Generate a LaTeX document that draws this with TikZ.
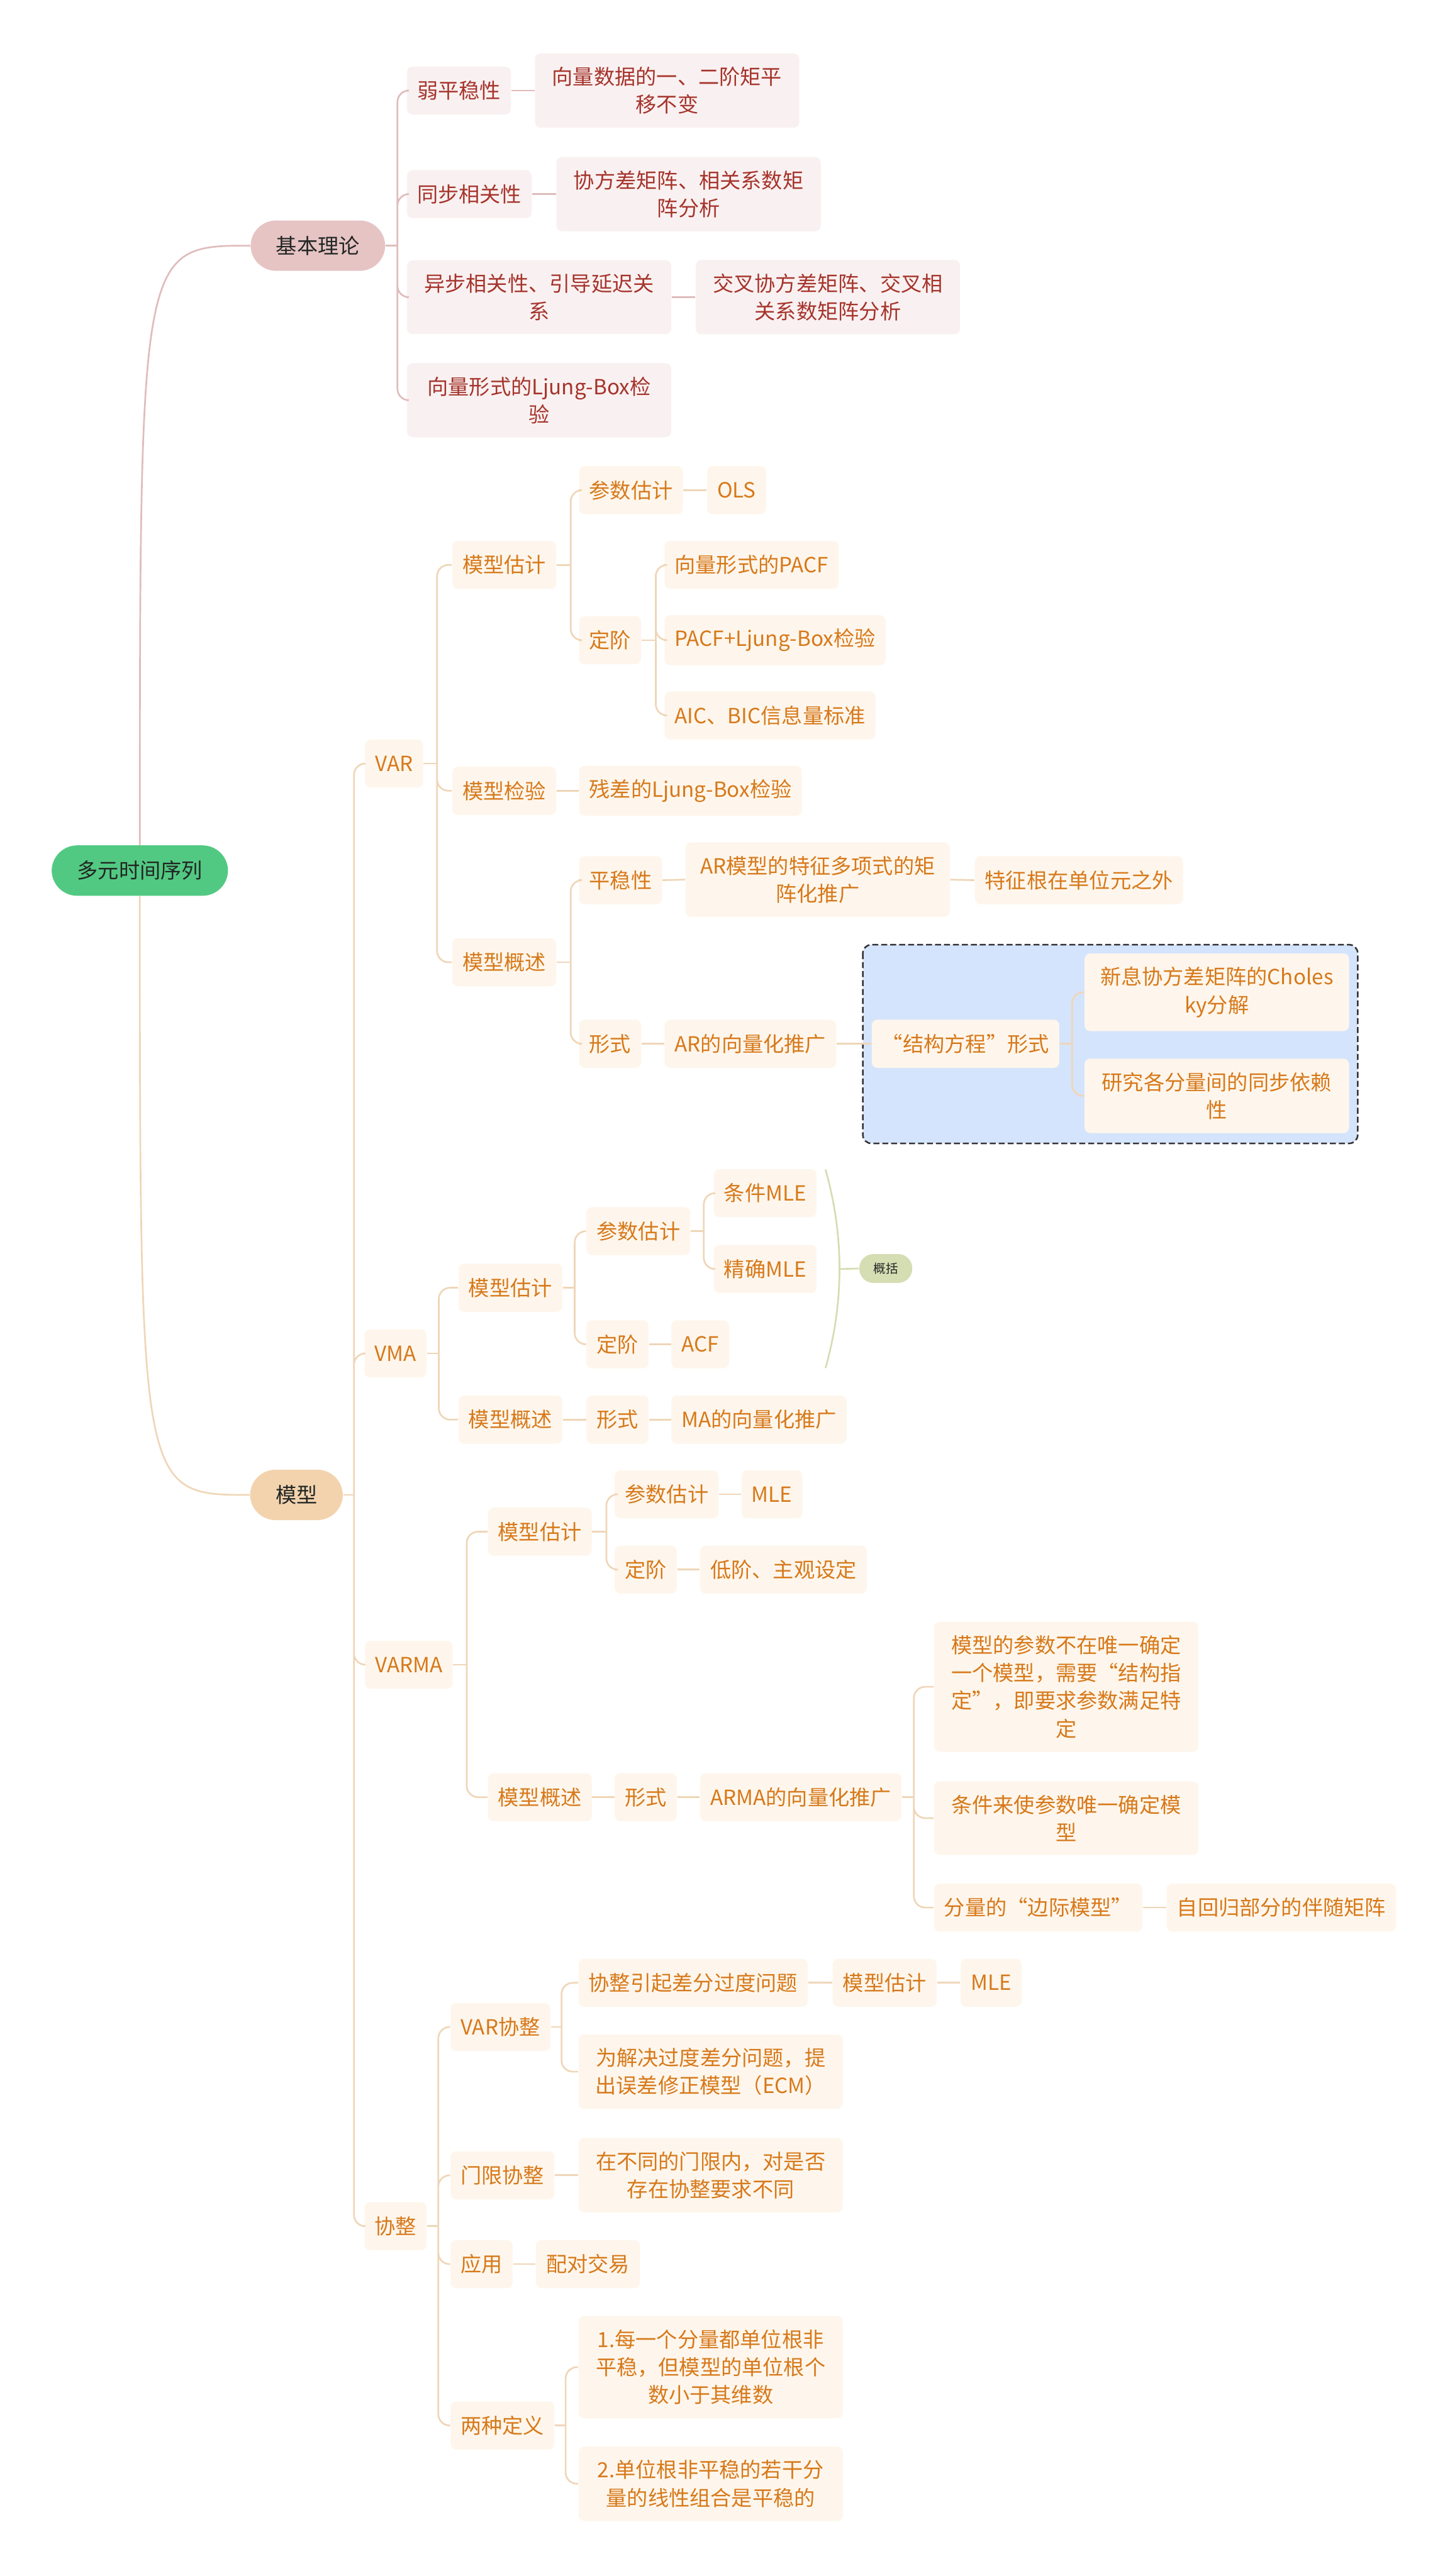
\documentclass[tikz,border=0pt]{standalone}
\usepackage{fontspec}
\setmainfont{Noto Sans CJK SC}
\usepackage{xcolor}
\usepackage{tikz}
\definecolor{rootColor}{RGB}{82, 201, 130}
\definecolor{pillText}{RGB}{34, 38, 36}
\definecolor{basicPillColor}{RGB}{230, 196, 196}
\definecolor{basicFill}{RGB}{249, 241, 241}
\definecolor{basicText}{RGB}{166, 52, 44}
\definecolor{basicLine}{RGB}{224, 188, 188}
\definecolor{modelPillColor}{RGB}{243, 211, 174}
\definecolor{modelFill}{RGB}{254, 246, 236}
\definecolor{modelText}{RGB}{215, 121, 26}
\definecolor{modelLine}{RGB}{239, 214, 184}
\definecolor{boundaryFill}{RGB}{213, 228, 253}
\definecolor{sumColor}{RGB}{213, 221, 179}

\begin{document}
\begin{tikzpicture}[font=\fontsize{10.5pt}{14pt}\selectfont,
    box/.style={rounded corners=0.1cm, inner xsep=0.18cm, inner ysep=0.24cm, minimum height=0.85cm, anchor=west},
    basicBox/.style={box, fill=basicFill, text=basicText},
    modelBox/.style={box, fill=modelFill, text=modelText},
    wrapbox/.style={text width=4.31cm, align=center},
    pill/.style={rounded corners=0.45cm, inner xsep=0.45cm, minimum height=0.89cm, text=pillText},
    basicLink/.style={draw=basicLine, line width=0.85pt, rounded corners=0.2cm},
    modelLink/.style={draw=modelLine, line width=0.85pt, rounded corners=0.2cm},
    boundaryBox/.style={draw=black!80, fill=boundaryFill, line width=0.8pt, dash pattern=on 3pt off 1.5pt, rounded corners=0.15cm}]
  \useasboundingbox (0,0) rectangle (25.60,-45.51);

  % Boundary round the structural-equation subtree
  \draw[boundaryBox] (15.24,-16.69) rectangle (23.98,-20.20);

  % Root and main topics
  \node[pill, fill=rootColor] (root) at (2.47,-15.38) {多元时间序列};
  \node[pill, fill=basicPillColor, anchor=west] (basic) at (4.42,-4.34) {基本理论};
  \node[pill, fill=modelPillColor, anchor=west] (model) at (4.41,-26.41) {模型};

  % Basic theory
  \node[basicBox] (weak) at (7.18,-1.60) {弱平稳性};
  \node[basicBox, wrapbox] (weakTxt) at (9.44,-1.60) {向量数据的一、二阶矩平\\移不变};
  \node[basicBox] (sync) at (7.18,-3.43) {同步相关性};
  \node[basicBox, wrapbox] (syncTxt) at (9.82,-3.43) {协方差矩阵、相关系数矩\\阵分析};
  \node[basicBox, wrapbox] (async) at (7.18,-5.25) {异步相关性、引导延迟关\\系};
  \node[basicBox, wrapbox] (asyncTxt) at (12.28,-5.25) {交叉协方差矩阵、交叉相\\关系数矩阵分析};
  \node[basicBox, wrapbox] (ljung) at (7.18,-7.07) {向量形式的Ljung-Box检\\验};

  % VAR
  \node[modelBox] (var) at (6.44,-13.49) {VAR};
  \node[modelBox] (varEst) at (7.98,-9.98) {模型估计};
  \node[modelBox] (varPar) at (10.22,-8.66) {参数估计};
  \node[modelBox] (varOls) at (12.48,-8.66) {OLS};
  \node[modelBox] (varOrd) at (10.22,-11.31) {定阶};
  \node[modelBox] (varPacf) at (11.73,-9.98) {向量形式的PACF};
  \node[modelBox] (varLb) at (11.73,-11.31) {PACF+Ljung-Box检验};
  \node[modelBox] (varAic) at (11.73,-12.64) {AIC、BIC信息量标准};
  \node[modelBox] (varChk) at (7.98,-13.97) {模型检验};
  \node[modelBox] (varRes) at (10.22,-13.97) {残差的Ljung-Box检验};
  \node[modelBox] (varDesc) at (7.98,-17.00) {模型概述};
  \node[modelBox] (varStat) at (10.22,-15.55) {平稳性};
  \node[modelBox, wrapbox] (varPoly) at (12.10,-15.54) {AR模型的特征多项式的矩\\阵化推广};
  \node[modelBox] (varRoot) at (17.21,-15.55) {特征根在单位元之外};
  \node[modelBox] (varForm) at (10.22,-18.44) {形式};
  \node[modelBox] (varGen) at (11.73,-18.44) {AR的向量化推广};
  \node[modelBox] (varSem) at (15.39,-18.44) {“结构方程”形式};
  \node[modelBox, wrapbox] (varChol) at (19.15,-17.53) {新息协方差矩阵的Choles\\ky分解};
  \node[modelBox, wrapbox] (varDep) at (19.15,-19.36) {研究各分量间的同步依赖\\性};

  % VMA
  \node[modelBox] (vma) at (6.43,-23.91) {VMA};
  \node[modelBox] (vmaEst) at (8.09,-22.75) {模型估计};
  \node[modelBox] (vmaPar) at (10.35,-21.75) {参数估计};
  \node[modelBox] (vmaCond) at (12.60,-21.08) {条件MLE};
  \node[modelBox] (vmaExact) at (12.60,-22.42) {精确MLE};
  \node[modelBox] (vmaOrd) at (10.35,-23.75) {定阶};
  \node[modelBox] (vmaAcf) at (11.85,-23.75) {ACF};
  \node[modelBox] (vmaDesc) at (8.09,-25.08) {模型概述};
  \node[modelBox] (vmaForm) at (10.35,-25.08) {形式};
  \node[modelBox] (vmaGen) at (11.85,-25.08) {MA的向量化推广};
  \coordinate (sumTop) at (14.58,-20.66);
  \coordinate (sumMid) at (14.83,-22.42);
  \coordinate (sumBot) at (14.58,-24.17);
  \node[rounded corners=0.25cm, fill=sumColor, text=pillText, inner xsep=0.25cm, minimum height=0.51cm,
        font=\fontsize{6.2pt}{7pt}\selectfont, anchor=west] (sumNote) at (15.17,-22.41) {概括};

  % VARMA
  \node[modelBox] (varma) at (6.44,-29.41) {VARMA};
  \node[modelBox] (varmaEst) at (8.61,-27.06) {模型估计};
  \node[modelBox] (varmaPar) at (10.85,-26.40) {参数估计};
  \node[modelBox] (varmaMle) at (13.09,-26.40) {MLE};
  \node[modelBox] (varmaOrd) at (10.85,-27.73) {定阶};
  \node[modelBox] (varmaLow) at (12.36,-27.73) {低阶、主观设定};
  \node[modelBox] (varmaDesc) at (8.61,-31.75) {模型概述};
  \node[modelBox] (varmaForm) at (10.85,-31.75) {形式};
  \node[modelBox] (varmaGen) at (12.36,-31.75) {ARMA的向量化推广};
  \node[modelBox, wrapbox] (varmaId) at (16.49,-29.80) {模型的参数不在唯一确定\\一个模型，需要“结构指\\定”，即要求参数满足特\\定};
  \node[modelBox, wrapbox] (varmaCond) at (16.49,-32.12) {条件来使参数唯一确定模\\型};
  \node[modelBox] (varmaMarg) at (16.49,-33.70) {分量的“边际模型”};
  \node[modelBox] (varmaComp) at (20.60,-33.70) {自回归部分的伴随矩阵};

  % Cointegration
  \node[modelBox] (coint) at (6.43,-39.33) {协整};
  \node[modelBox] (coVar) at (7.95,-35.81) {VAR协整};
  \node[modelBox] (coDiff) at (10.21,-35.03) {协整引起差分过度问题};
  \node[modelBox] (coEst) at (14.70,-35.03) {模型估计};
  \node[modelBox] (coMle) at (16.96,-35.03) {MLE};
  \node[modelBox, wrapbox] (coEcm) at (10.21,-36.60) {为解决过度差分问题，提\\出误差修正模型（ECM）};
  \node[modelBox] (coThr) at (7.95,-38.43) {门限协整};
  \node[modelBox, wrapbox] (coThrTxt) at (10.21,-38.43) {在不同的门限内，对是否\\存在协整要求不同};
  \node[modelBox] (coApp) at (7.95,-40.00) {应用};
  \node[modelBox] (coPair) at (9.46,-40.00) {配对交易};
  \node[modelBox] (coDef) at (7.95,-42.85) {两种定义};
  \node[modelBox, wrapbox] (coDef1) at (10.21,-41.82) {1.每一个分量都单位根非\\平稳，但模型的单位根个\\数小于其维数};
  \node[modelBox, wrapbox] (coDef2) at (10.21,-43.88) {2.单位根非平稳的若干分\\量的线性组合是平稳的};

  % Root branches
  \draw[basicLink] (root.north) .. controls (root.north |- basic.west) .. (basic.west);
  \draw[modelLink] (root.south) .. controls (root.south |- model.west) .. (model.west);

  % Basic theory links
  \draw[basicLink] (basic.east) -- ++(0.21,0) coordinate (basicS);
  \draw[basicLink] (basicS) |- (weak.west) (basicS) |- (sync.west) (basicS) |- (async.west) (basicS) |- (ljung.west);
  \draw[basicLink] (weak.east) -- (weakTxt.west);
  \draw[basicLink] (sync.east) -- (syncTxt.west);
  \draw[basicLink] (async.east) -- (asyncTxt.west);

  % Model links
  \draw[modelLink] (model.east) -- ++(0.19,0) coordinate (modelS);
  \draw[modelLink] (modelS) |- (var.west) (modelS) |- (vma.west) (modelS) |- (varma.west) (modelS) |- (coint.west);

  % VAR links
  \draw[modelLink] (var.east) -- ++(0.24,0) coordinate (varS);
  \draw[modelLink] (varS) |- (varEst.west) (varS) |- (varChk.west) (varS) |- (varDesc.west);
  \draw[modelLink] (varEst.east) -- ++(0.25,0) coordinate (varEstS);
  \draw[modelLink] (varEstS) |- (varPar.west) (varEstS) |- (varOrd.west);
  \draw[modelLink] (varPar.east) -- (varOls.west);
  \draw[modelLink] (varOrd.east) -- ++(0.25,0) coordinate (varOrdS);
  \draw[modelLink] (varOrdS) |- (varPacf.west) (varOrdS) |- (varLb.west) (varOrdS) |- (varAic.west);
  \draw[modelLink] (varChk.east) -- (varRes.west);
  \draw[modelLink] (varDesc.east) -- ++(0.25,0) coordinate (varDescS);
  \draw[modelLink] (varDescS) |- (varStat.west) (varDescS) |- (varForm.west);
  \draw[modelLink] (varStat.east) -- (varPoly.west);
  \draw[modelLink] (varPoly.east) -- (varRoot.west);
  \draw[modelLink] (varForm.east) -- (varGen.west);
  \draw[modelLink] (varGen.east) -- (varSem.west);
  \draw[modelLink] (varSem.east) -- ++(0.22,0) coordinate (varSemS);
  \draw[modelLink] (varSemS) |- (varChol.west) (varSemS) |- (varDep.west);

  % VMA links
  \draw[modelLink] (vma.east) -- ++(0.21,0) coordinate (vmaS);
  \draw[modelLink] (vmaS) |- (vmaEst.west) (vmaS) |- (vmaDesc.west);
  \draw[modelLink] (vmaEst.east) -- ++(0.21,0) coordinate (vmaEstS);
  \draw[modelLink] (vmaEstS) |- (vmaPar.west) (vmaEstS) |- (vmaOrd.west);
  \draw[modelLink] (vmaPar.east) -- ++(0.23,0) coordinate (vmaParS);
  \draw[modelLink] (vmaParS) |- (vmaCond.west) (vmaParS) |- (vmaExact.west);
  \draw[modelLink] (vmaOrd.east) -- (vmaAcf.west);
  \draw[modelLink] (vmaDesc.east) -- (vmaForm.west);
  \draw[modelLink] (vmaForm.east) -- (vmaGen.west);
  % summary of the estimation subtree
  \draw[draw=sumColor, line width=0.85pt] (sumTop) .. controls (14.91,-21.83) and (14.91,-23.00) .. (sumBot);
  \draw[draw=sumColor, line width=0.85pt] (sumMid) -- (sumNote.west);

  % VARMA links
  \draw[modelLink] (varma.east) -- ++(0.24,0) coordinate (varmaS);
  \draw[modelLink] (varmaS) |- (varmaEst.west) (varmaS) |- (varmaDesc.west);
  \draw[modelLink] (varmaEst.east) -- ++(0.25,0) coordinate (varmaEstS);
  \draw[modelLink] (varmaEstS) |- (varmaPar.west) (varmaEstS) |- (varmaOrd.west);
  \draw[modelLink] (varmaPar.east) -- (varmaMle.west);
  \draw[modelLink] (varmaOrd.east) -- (varmaLow.west);
  \draw[modelLink] (varmaDesc.east) -- (varmaForm.west);
  \draw[modelLink] (varmaForm.east) -- (varmaGen.west);
  \draw[modelLink] (varmaGen.east) -- ++(0.21,0) coordinate (varmaGenS);
  \draw[modelLink] (varmaGenS) |- (varmaId.west) (varmaGenS) |- (varmaCond.west) (varmaGenS) |- (varmaMarg.west);
  \draw[modelLink] (varmaMarg.east) -- (varmaComp.west);

  % Cointegration links
  \draw[modelLink] (coint.east) -- ++(0.20,0) coordinate (coS);
  \draw[modelLink] (coS) |- (coVar.west) (coS) |- (coThr.west) (coS) |- (coApp.west) (coS) |- (coDef.west);
  \draw[modelLink] (coVar.east) -- ++(0.19,0) coordinate (coVarS);
  \draw[modelLink] (coVarS) |- (coDiff.west) (coVarS) |- (coEcm.west);
  \draw[modelLink] (coDiff.east) -- (coEst.west);
  \draw[modelLink] (coEst.east) -- (coMle.west);
  \draw[modelLink] (coThr.east) -- (coThrTxt.west);
  \draw[modelLink] (coApp.east) -- (coPair.west);
  \draw[modelLink] (coDef.east) -- ++(0.19,0) coordinate (coDefS);
  \draw[modelLink] (coDefS) |- (coDef1.west) (coDefS) |- (coDef2.west);
\end{tikzpicture}
\end{document}
